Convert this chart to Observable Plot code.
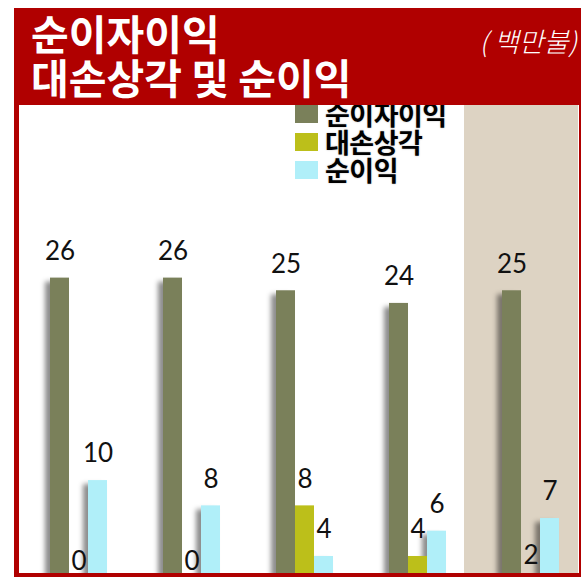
<!DOCTYPE html>
<html>
<head>
<meta charset="utf-8">
<script src="https://cdn.jsdelivr.net/npm/d3@7"></script>
<script src="https://cdn.jsdelivr.net/npm/@observablehq/plot@0.6"></script>
<style>
  body { margin: 0; background: #fff; }
  #wrap { position: relative; width: 581px; height: 577px; overflow: hidden; background: #fff; }
  #plot { position: absolute; left: 0; top: 105px; width: 581px; height: 469px; overflow: hidden; }
  #header { position: absolute; left: 14px; top: 8px; right: 0; height: 97px; background: #b00000;
            border-top-left-radius: 4px; z-index: 3; font-family: "Noto Sans CJK KR", sans-serif; color: #fff; }
  #title { position: absolute; left: 17px; top: 2px; font-size: 41px; font-weight: 700; line-height: 44px; letter-spacing: 0px; }
  #unit { position: absolute; right: 4px; top: 13px; font-size: 27px; font-weight: 300; font-style: italic; }
  #frame { position: absolute; left: 14px; top: 8px; width: 567px; height: 569px; box-sizing: border-box;
           border-left: 5px solid #b00000; border-right: 2px solid #b00000; border-bottom: 4px solid #b00000; z-index: 4; }
  #legend { position: absolute; left: 295px; top: 100px; z-index: 2; font-family: "Noto Sans CJK KR", sans-serif; }
  .lrow { display: flex; align-items: center; height: 28px; }
  .lsw { width: 23px; height: 18px; margin-right: 7px; margin-top: 0px; }
  .ltx { font-size: 27px; font-weight: 700; color: #000; line-height: 28px; letter-spacing: -0.5px;
         text-shadow: 0 0 2px #bbb; }
  g.shadow { filter: blur(2.5px); }
</style>
</head>
<body>
<div id="wrap">
  <div id="plot"></div>
  <div id="legend"></div>
  <div id="header">
    <div id="title"></div>
    <div id="unit"></div>
  </div>
  <div id="frame"></div>
</div>
<script>
const titleLines = ["순이자이익", "대손상각 및 순이익"];
const unitLabel = "( 백만불)";
const groups = ["G1", "G2", "G3", "G4", "G5"];
const series = ["순이자이익", "대손상각", "순이익"];
const netInterest = [26, 26, 25, 24, 25];
const loanLoss = [0, 0, 8, 4, 2];
const netIncome = [10, 8, 4, 6, 7];
const highlighted = ["G5"];
const colors = ["#7a805a", "#bcbf1a", "#b0eff9"];

const seriesValues = [netInterest, loanLoss, netIncome];
const data = groups.flatMap((g, i) => series.map((s, j) => ({group: g, series: s, value: seriesValues[j][i]})));

document.getElementById("title").innerHTML = titleLines.map(t => `<div>${t}</div>`).join("");
document.getElementById("unit").textContent = unitLabel;
document.getElementById("legend").innerHTML = series.map((s, j) =>
  `<div class="lrow"><div class="lsw" style="background:${colors[j]}"></div><div class="ltx">${s}</div></div>`).join("");

const H = 540, MT = 122, MB = 38.4;
const chart = Plot.plot({
  width: 581,
  height: H,
  marginTop: MT,
  marginBottom: MB,
  marginLeft: 48,
  marginRight: 21,
  style: {background: "white", fontFamily: "Lato, 'DejaVu Sans', sans-serif"},
  fx: {domain: groups, paddingInner: 0.5, paddingOuter: 0, axis: null, label: null},
  x: {domain: series, padding: 0, axis: null},
  y: {domain: [0, 30], axis: null},
  color: {domain: series, range: colors},
  marks: [
    Plot.rect(highlighted, {fx: d => d, fill: "#ddd3c3", insetLeft: -38, insetRight: -19, insetTop: -MT, insetBottom: -MB}),
    Plot.barY(data.filter(d => d.series !== series[1]), {fx: "group", x: "series", y: "value", fill: "#000", fillOpacity: 0.45, dx: -5, dy: 4, className: "shadow"}),
    Plot.barY(data, {fx: "group", x: "series", y: "value", fill: "series"}),
    Plot.text(data, {fx: "group", x: "series", y: d => Math.max(d.value, 1.5), text: d => String(d.value), dy: -26.5, fontSize: 26, fill: "#111"})
  ]
});
document.getElementById("plot").appendChild(chart);
</script>
</body>
</html>
